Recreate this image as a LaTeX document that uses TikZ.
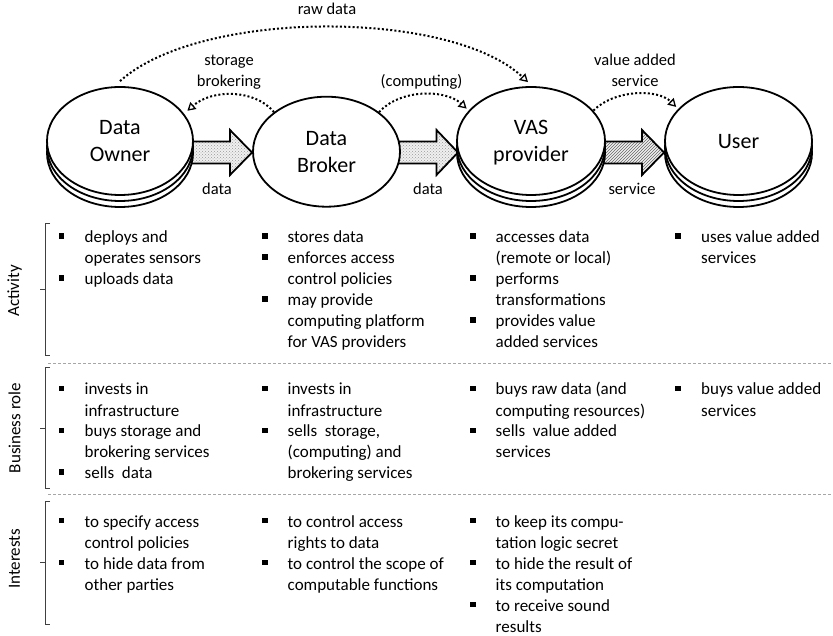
\documentclass[tikz,border=0pt]{standalone}
\usepackage{fontspec}
\setmainfont{Carlito}
\usetikzlibrary{shapes.geometric,arrows.meta,patterns,calc}
\newcommand\bul{\rule[3.7pt]{5.8pt}{5.8pt}}
\newcommand\B{\makebox[26pt][l]{\bul}}
\begin{document}
\begin{tikzpicture}[x=1pt,y=-1pt,
  party/.style={ellipse, draw, line width=1.8pt, fill=white, inner sep=0pt, align=center,
    font=\fontsize{22}{26.5}\selectfont, text depth=0pt},
  lbl/.style={font=\fontsize{16.5}{21}\selectfont, align=center, anchor=base, inner sep=0pt},
  flow/.style={line width=2pt, dash pattern=on 2pt off 2.2pt,
    -{Triangle[open,length=8pt,width=9pt,line width=1.3pt]}},
  cell/.style={font=\fontsize{17}{21}\selectfont, anchor=base west, inner sep=0pt},
  rowlbl/.style={font=\fontsize{17}{21}\selectfont, rotate=90, inner sep=0pt},
  brk/.style={line width=0.8pt, draw=black!75},
  sep/.style={draw=gray!70, line width=0.8pt, dash pattern=on 3pt off 2pt},
  blk/.style={line width=1.8pt, draw, line join=miter},
  dotfill/.style={preaction={fill=gray!12}, pattern=crosshatch dots, pattern color=gray!80},
  hatchfill/.style={preaction={fill=gray!12}, pattern=north east lines, pattern color=gray!80!black},
]
\useasboundingbox (0,0) rectangle (833,636);

% block arrows (drawn first, ellipses cover their tails)
\draw[blk, dotfill] (186,141.5) -- (230,141.5) -- (230,130) -- (252,152.5) -- (230,175) -- (230,163.5) -- (186,163.5) -- cycle;
\draw[blk, dotfill] (394,141.5) -- (436.5,141.5) -- (436.5,130) -- (458,152.5) -- (436.5,175) -- (436.5,163.5) -- (394,163.5) -- cycle;
\draw[blk, hatchfill] (600,141.5) -- (642,141.5) -- (642,130) -- (664,152.5) -- (642,175) -- (642,163.5) -- (600,163.5) -- cycle;

% parties
\node[party, minimum width=146pt, minimum height=108pt] (owner3) at (120,153) {};
\node[party, minimum width=146pt, minimum height=108pt] (owner2) at (120,147) {};
\node[party, minimum width=146pt, minimum height=108pt] (owner) at (120,141) {Data\\Owner};

\node[party, minimum width=147pt, minimum height=110pt] (broker) at (326.5,151.7) {Data\\Broker};

\node[party, minimum width=148pt, minimum height=108pt] (vas3) at (531,153) {};
\node[party, minimum width=148pt, minimum height=108pt] (vas2) at (531,147) {};
\node[party, minimum width=148pt, minimum height=108pt] (vas) at (531,141) {VAS\\provider};

\node[party, minimum width=147pt, minimum height=108pt] (user3) at (738.5,153) {};
\node[party, minimum width=147pt, minimum height=108pt] (user2) at (738.5,147) {};
\node[party, minimum width=147pt, minimum height=108pt] (user) at (738.5,141) {User};

% arrow labels
\node[lbl] (ldata1) at (217,195) {data};
\node[lbl] (ldata2) at (428,195) {data};
\node[lbl] (lserv) at (632,195) {service};

% dotted flows
\draw[flow] ([yshift=5pt]owner.north) .. controls (200,9) and (450,9) .. ([xshift=-3pt,yshift=4pt]vas.north);
\node[lbl] (lraw) at (327,15) {raw data};

\draw[flow] (broker.143) .. controls (255,89) and (212,89) .. ([xshift=4pt,yshift=2pt]owner.24);
\node[lbl] (lstor) at (229,87) {storage\\brokering};

\draw[flow] (broker.37) .. controls (400,89) and (445,89) .. ([xshift=-2pt,yshift=2pt]vas.154);
\node[lbl] (lcomp) at (421.5,87) {(computing)};

\draw[flow] (vas.26) .. controls (615,89) and (658,89) .. ([xshift=-2pt,yshift=2pt]user.152);
\node[lbl] (lvas) at (635,87) {value added\\service};

% row brackets and labels
\draw[brk] (50,223) -- (45.5,223) -- (45.5,355) -- (50,355);
\draw[brk] (45.5,289) -- (40,289);
\node[rowlbl] (ract) at (14.5,291) {Activity};

\draw[brk] (50,367) -- (45.5,367) -- (45.5,488) -- (50,488);
\draw[brk] (45.5,428) -- (40,428);
\node[rowlbl] (rbus) at (14.5,428) {Business role};

\draw[brk] (50,501) -- (45.5,501) -- (45.5,624) -- (50,624);
\draw[brk] (45.5,562) -- (40,562);
\node[rowlbl] (rint) at (14.5,559) {Interests};

% separators
\draw[sep] (48,363.5) -- (833,363.5);
\draw[sep] (48,494.5) -- (833,494.5);

% Activity row
\node[cell] (a1) at (58.5,243) {\begin{tabular}[t]{@{}l@{}l@{}}
\B & deploys and\\ & operates sensors\\ \B & uploads data\end{tabular}};
\node[cell] (a2) at (261.5,243) {\begin{tabular}[t]{@{}l@{}l@{}}
\B & stores data\\ \B & enforces access\\ & control policies\\ \B & may provide\\ & computing platform\\ & for VAS providers\end{tabular}};
\node[cell] (a3) at (469.5,243) {\begin{tabular}[t]{@{}l@{}l@{}}
\B & accesses data\\ & (remote or local)\\ \B & performs\\ & transformations\\ \B & provides value\\ & added services\end{tabular}};
\node[cell] (a4) at (675,243) {\begin{tabular}[t]{@{}l@{}l@{}}
\B & uses value added\\ & services\end{tabular}};

% Business role row
\node[cell] (b1) at (58.5,395) {\begin{tabular}[t]{@{}l@{}l@{}}
\B & invests in\\ & infrastructure\\ \B & buys storage and\\ & brokering services\\ \B & sells\ \ data\end{tabular}};
\node[cell] (b2) at (261.5,395) {\begin{tabular}[t]{@{}l@{}l@{}}
\B & invests in\\ & infrastructure\\ \B & sells\ \ storage,\\ & (computing) and\\ & brokering services\end{tabular}};
\node[cell] (b3) at (469.5,395) {\begin{tabular}[t]{@{}l@{}l@{}}
\B & buys raw data (and\\ & computing resources)\\ \B & sells\ \ value added\\ & services\end{tabular}};
\node[cell] (b4) at (675,395) {\begin{tabular}[t]{@{}l@{}l@{}}
\B & buys value added\\ & services\end{tabular}};

% Interests row
\node[cell] (i1) at (58.5,527) {\begin{tabular}[t]{@{}l@{}l@{}}
\B & to specify access\\ & control policies\\ \B & to hide data from\\ & other parties\end{tabular}};
\node[cell] (i2) at (261.5,527) {\begin{tabular}[t]{@{}l@{}l@{}}
\B & to control access\\ & rights to data\\ \B & to control the scope of\\ & computable functions\end{tabular}};
\node[cell] (i3) at (469.5,527) {\begin{tabular}[t]{@{}l@{}l@{}}
\B & to keep its compu-\\ & tation logic secret\\ \B & to hide the result of\\ & its computation\\ \B & to receive sound\\ & results\end{tabular}};
\end{tikzpicture}
\end{document}
